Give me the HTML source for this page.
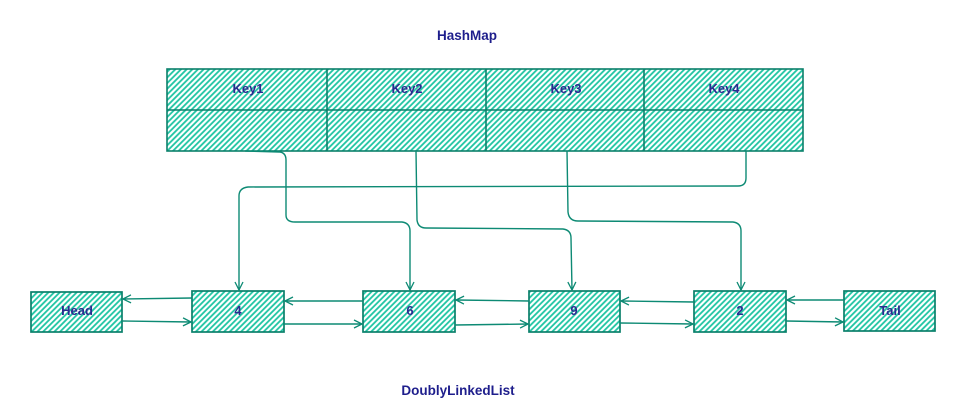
<!DOCTYPE html>
<html><head><meta charset="utf-8"><style>
html,body{margin:0;padding:0;background:#fff;}
svg{display:block;}
text{font-family:"Liberation Sans",sans-serif;font-weight:bold;}
</style></head><body>
<svg width="975" height="415" viewBox="0 0 975 415" xmlns="http://www.w3.org/2000/svg">
<defs>
<pattern id="h" patternUnits="userSpaceOnUse" width="4" height="4" patternTransform="rotate(45)">
<line x1="1" y1="0" x2="1" y2="4" stroke="#1cc4a2" stroke-width="1.8"/>
</pattern>
<marker id="a" viewBox="0 0 10 10" refX="9" refY="5" markerWidth="10" markerHeight="10" orient="auto" markerUnits="userSpaceOnUse">
<path d="M1,1 L9,5 L1,9" fill="none" stroke="#0d8a74" stroke-width="1.3"/>
</marker>
</defs>
<rect width="975" height="415" fill="#fff"/>

<text x="467" y="40" font-size="13.5" fill="#1e1e8c" text-anchor="middle">HashMap</text>
<text x="458" y="395" font-size="13.5" fill="#1e1e8c" text-anchor="middle">DoublyLinkedList</text>

<!-- HashMap -->
<g stroke="#0b806b" stroke-width="1.6">
<rect x="167" y="69" width="636" height="82" fill="url(#h)"/>
<line x1="167" y1="110" x2="803" y2="110"/>
<line x1="327" y1="69" x2="327" y2="151"/>
<line x1="486" y1="69" x2="486" y2="151"/>
<line x1="644" y1="69" x2="644" y2="151"/>
</g>
<g font-size="13" fill="#2a2a90" text-anchor="middle">
<text x="248" y="93">Key1</text>
<text x="407" y="93">Key2</text>
<text x="566" y="93">Key3</text>
<text x="724" y="93">Key4</text>
</g>

<!-- connectors from hashmap -->
<g fill="none" stroke="#0d8a74" stroke-width="1.4">
<path d="M245,151 L280,152 Q286,153 286,160 L286,215 Q286,222 295,222 L402,222 Q410,223 410,231 L410,290" marker-end="url(#a)"/>
<path d="M416,151 L417,220 Q418,228 426,228 L563,229 Q571,230 571,238 L572,290" marker-end="url(#a)"/>
<path d="M567,151 L568,212 Q569,221 578,221 L733,222 Q741,223 741,231 L741,290" marker-end="url(#a)"/>
<path d="M746,151 L746,178 Q746,186 738,186 L248,187 Q239,188 239,196 L239,290" marker-end="url(#a)"/>
</g>

<!-- list boxes -->
<g stroke="#0b806b" stroke-width="1.7" fill="url(#h)">
<rect x="31" y="292" width="91" height="40"/>
<rect x="192" y="291" width="92" height="41"/>
<rect x="363" y="291" width="92" height="41"/>
<rect x="529" y="291" width="91" height="41"/>
<rect x="694" y="291" width="92" height="41"/>
<rect x="844" y="291" width="91" height="40"/>
</g>
<g font-size="13" fill="#2a2a90" text-anchor="middle">
<text x="77" y="315">Head</text>
<text x="238" y="315">4</text>
<text x="410" y="315">6</text>
<text x="574" y="315">9</text>
<text x="740" y="315">2</text>
<text x="890" y="315">Tail</text>
</g>

<!-- list arrows -->
<g fill="none" stroke="#0d8a74" stroke-width="1.4">
<path d="M192,298 L123,299" marker-end="url(#a)"/>
<path d="M122,321 L191,322" marker-end="url(#a)"/>
<path d="M363,301 L285,301" marker-end="url(#a)"/>
<path d="M284,324 L362,324" marker-end="url(#a)"/>
<path d="M529,301 L456,300" marker-end="url(#a)"/>
<path d="M455,325 L528,324" marker-end="url(#a)"/>
<path d="M694,302 L621,301" marker-end="url(#a)"/>
<path d="M620,323 L693,324" marker-end="url(#a)"/>
<path d="M844,300 L787,300" marker-end="url(#a)"/>
<path d="M786,321 L843,322" marker-end="url(#a)"/>
</g>
</svg>
</body></html>
